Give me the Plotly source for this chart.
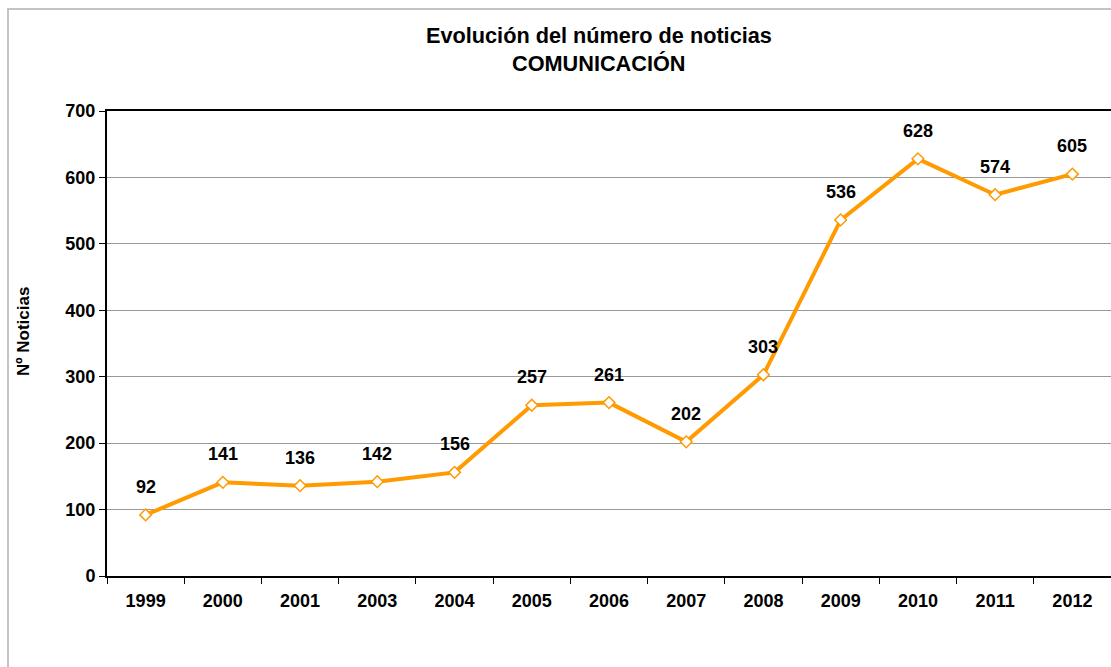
import plotly.graph_objects as go

years = ["1999", "2000", "2001", "2003", "2004", "2005", "2006",
         "2007", "2008", "2009", "2010", "2011", "2012"]
noticias = [92, 141, 136, 142, 156, 257, 261, 202, 303, 536, 628, 574, 605]
y_ticks = [0, 100, 200, 300, 400, 500, 600, 700]

ORANGE = "#FF9A00"
FONT = "Liberation Sans, Arial, sans-serif"

fig = go.Figure()
fig.add_trace(go.Scatter(
    x=years, y=noticias, mode="lines+markers",
    line=dict(color=ORANGE, width=4),
    marker=dict(symbol="diamond", size=9, color="white",
                line=dict(color=ORANGE, width=1.5)),
    hoverinfo="x+y", showlegend=False,
))

annotations = []
# value labels above each point (category index on the x axis)
for i, v in enumerate(noticias):
    annotations.append(dict(x=i, y=v, xref="x", yref="y",
                            text="<b>%d</b>" % v, showarrow=False,
                            yshift=28,
                            font=dict(family=FONT, size=18, color="black")))

# two-line chart title
annotations.append(dict(x=0.4905, y=1.1613, xref="paper", yref="paper",
                        text="<b>Evolución del número de noticias</b>",
                        showarrow=False, xanchor="center", yanchor="middle",
                        font=dict(family=FONT, size=21.7, color="black")))
annotations.append(dict(x=0.4905, y=1.1011, xref="paper", yref="paper",
                        text="<b>COMUNICACIÓN</b>",
                        showarrow=False, xanchor="center", yanchor="middle",
                        font=dict(family=FONT, size=21.7, color="black")))

# vertical axis caption
annotations.append(dict(x=-0.0827, y=0.527, xref="paper", yref="paper",
                        text="<b>Nº Noticias</b>", textangle=-90,
                        showarrow=False, xanchor="center", yanchor="middle",
                        font=dict(family=FONT, size=17, color="black")))

# outer chart frame: thin filled bands along the left and top edges
FRAME_COLOR = "#C4C4C4"
shapes = [
    dict(type="rect", xref="paper", yref="paper", layer="above",
         x0=-0.0996, x1=-0.0976, y0=-0.4, y1=1.2215,
         fillcolor=FRAME_COLOR, line=dict(width=0)),
    dict(type="rect", xref="paper", yref="paper", layer="above",
         x0=-0.0996, x1=1.01, y0=1.2172, y1=1.2215,
         fillcolor=FRAME_COLOR, line=dict(width=0)),
]

fig.update_layout(
    width=1111, height=667,
    margin=dict(l=107, r=0, t=111, b=91),
    paper_bgcolor="white", plot_bgcolor="white",
    font=dict(family=FONT, color="black"),
    annotations=annotations,
    shapes=shapes,
    xaxis=dict(type="category", range=[-0.5, 12.5],
               tickvals=years, ticktext=["<b>%s</b>" % y for y in years],
               showline=True, linecolor="black", linewidth=2, mirror=True,
               ticks="outside", tickson="boundaries", ticklen=6,
               tickcolor="black", tickwidth=1,
               showgrid=False, ticklabelstandoff=7,
               tickfont=dict(family=FONT, size=18, color="black")),
    yaxis=dict(range=[0, 700], tickvals=y_ticks,
               ticktext=["<b>%d</b>" % t for t in y_ticks],
               showline=True, linecolor="black", linewidth=2,
               ticks="outside", ticklen=6, tickcolor="black",
               showgrid=True, gridcolor="#999999", gridwidth=1,
               zeroline=False,
               tickfont=dict(family=FONT, size=18, color="black")),
)

fig.write_html("out.html")
